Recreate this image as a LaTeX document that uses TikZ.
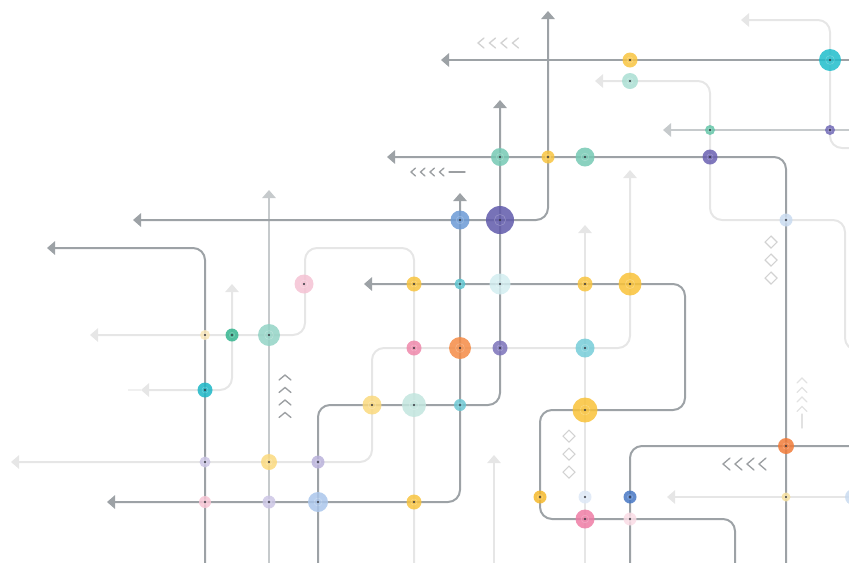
\documentclass[tikz,border=0pt]{standalone}
\usetikzlibrary{arrows.meta}
\definecolor{dk}{HTML}{9DA2A6}
\definecolor{md}{HTML}{C6CACC}
\definecolor{lt}{HTML}{E6E6E6}
\definecolor{chD}{HTML}{9C9FA2}
\definecolor{chL}{HTML}{D2D2D2}
\definecolor{chLL}{HTML}{E2E2E2}
% node colours
\definecolor{yel}{HTML}{F8C43F}
\definecolor{yelB}{HTML}{F9C238}
\definecolor{yelD}{HTML}{F5B82A}
\definecolor{yelL}{HTML}{FAD97E}
\definecolor{yelP}{HTML}{F9E6B8}
\definecolor{yelS}{HTML}{F7E1A0}
\definecolor{tealB}{HTML}{20BDCB}
\definecolor{tealL}{HTML}{A9DED2}
\definecolor{tealM}{HTML}{93D3C5}
\definecolor{tealLL}{HTML}{C2E5DE}
\definecolor{grnA}{HTML}{64C6A8}
\definecolor{grnB}{HTML}{76C9B4}
\definecolor{grnC}{HTML}{34B58F}
\definecolor{purA}{HTML}{7068B6}
\definecolor{purB}{HTML}{6A60B1}
\definecolor{purC}{HTML}{5F59AA}
\definecolor{purD}{HTML}{7B72BA}
\definecolor{purL}{HTML}{BAB2DB}
\definecolor{purLL}{HTML}{CCC6E5}
\definecolor{bluA}{HTML}{6B9AD6}
\definecolor{bluB}{HTML}{4677C4}
\definecolor{bluM}{HTML}{AAC6EB}
\definecolor{bluL}{HTML}{C9DBF0}
\definecolor{bluLL}{HTML}{DDE8F6}
\definecolor{cynA}{HTML}{5DC4CF}
\definecolor{cynB}{HTML}{76CDD8}
\definecolor{cynC}{HTML}{1BB6C6}
\definecolor{cynD}{HTML}{6CC7D2}
\definecolor{cynL}{HTML}{D2EDF0}
\definecolor{pnkA}{HTML}{EF87AA}
\definecolor{pnkB}{HTML}{EE7DA5}
\definecolor{pnkL}{HTML}{F5C2D3}
\definecolor{pnkLL}{HTML}{F7C4D3}
\definecolor{pnkP}{HTML}{FADCE5}
\definecolor{orgA}{HTML}{F48B45}
\definecolor{orgB}{HTML}{F17B38}
\definecolor{dotc}{HTML}{33333C}
\tikzset{
  tri/.tip={Triangle[length=6pt,width=10pt]},
  dkline/.style={draw=dk, line width=1.5pt, rounded corners=9pt},
  mdline/.style={draw=md, line width=1.5pt, rounded corners=9pt},
  ltline/.style={draw=lt, line width=1.5pt, rounded corners=9pt},
  hubnode/.style={circle, inner sep=0pt, draw=none, fill opacity=0.85},
  chev/.style={line width=1pt, line cap=round, line join=miter},
  diam/.style={draw=chL, line width=0.8pt},
}
\newcommand\hub[4]{%
  \node[hubnode, fill=#4, minimum size=#3*1.5pt] (#1) at (#2) {};
  \draw[white, opacity=0.25, line width=0.4pt] (#1.center) circle[radius=#3*0.3pt];
  \fill[dotc] (#1.center) circle[radius=0.8pt];
}
\newcommand\chevleft[5]{% x y width height colour
  \draw[chev, draw=#5] (#1,#2) ++(#3,-#4/2) -- ++(-#3,#4/2) -- ++(#3,#4/2);
}
\newcommand\chevup[5]{% x y halfwidth height colour
  \draw[chev, draw=#5] (#1,#2) ++(-#3,#4) -- ++(#3,-#4) -- ++(#3,#4);
}
\newcommand\diamondmark[2]{%
  \draw[diam] (#1,#2) ++(0,-6) -- ++(6,6) -- ++(-6,6) -- ++(-6,-6) -- cycle;
}
\begin{document}
\begin{tikzpicture}[x=0.75pt,y=-0.75pt]
\useasboundingbox (0,0) rectangle (849,562);
\clip (0,0) rectangle (849,562);

% ---------- light lines ----------
\draw[ltline, {tri}-] (741,20) -- (830,20) -- (830,148) -- (870,148);
\draw[ltline, {tri}-] (595,81) -- (710,81) -- (710,220) -- (845,220) -- (845,350) -- (880,350);
\draw[ltline, {tri}-{tri}] (630,170) -- (630,348) -- (372,348) -- (372,462) -- (11,462);
\draw[ltline, {tri}-] (585,225) -- (585,570);
\draw[ltline, {tri}-] (90,335) -- (305,335) -- (305,248) -- (414,248) -- (414,570);
\draw[ltline, {tri}-{tri}] (232,284) -- (232,390) -- (141,390);
\draw[draw=lt!60, line width=1.5pt] (128,390) -- (141,390);
\draw[ltline, {tri}-] (494,455) -- (494,570);
\draw[ltline, {tri}-] (667,497) -- (870,497);

% ---------- medium lines ----------
\draw[mdline, {tri}-] (269,190) -- (269,570);
\draw[mdline, {tri}-] (663,130) -- (870,130);

% ---------- dark lines ----------
\draw[dkline, {tri}-{tri}] (133,220) -- (548,220) -- (548,11);
\draw[dkline, {tri}-] (441,60) -- (870,60);
\draw[dkline, {tri}-] (500,100) -- (500,405) -- (318,405) -- (318,570);
\draw[dkline, {tri}-] (387,157) -- (786,157) -- (786,570);
\draw[dkline, {tri}-{tri}] (460,193) -- (460,502) -- (107,502);
\draw[dkline, {tri}-] (47,248) -- (205,248) -- (205,570);
\draw[dkline, {tri}-] (364,284) -- (685,284) -- (685,410) -- (540,410) -- (540,519) -- (735,519) -- (735,570);
\draw[dkline] (870,446) -- (630,446) -- (630,570);

% ---------- hubs ----------
\hub{h1}{630,60}{7.5}{yel}
\hub{h2}{830,60}{11}{tealB}
\hub{h3}{630,81}{8}{tealL}
\hub{h4}{710,130}{5}{grnA}
\hub{h5}{830,130}{5}{purA}
\hub{h6}{500,157}{9}{grnB}
\hub{h7}{548,157}{6.5}{yel}
\hub{h8}{585,157}{9.5}{grnB}
\hub{h9}{710,157}{7.5}{purB}
\hub{h10}{460,220}{9.5}{bluA}
\hub{h11}{500,220}{14}{purC}
\hub{h12}{786,220}{6.5}{bluL}
\hub{h13}{304,284}{9.5}{pnkL}
\hub{h14}{414,284}{7.5}{yel}
\hub{h15}{460,284}{5.5}{cynA}
\hub{h16}{500,284}{10.5}{cynL}
\hub{h17}{585,284}{7.5}{yel}
\hub{h18}{630,284}{11.5}{yelB}
\hub{h19}{205,335}{5}{yelP}
\hub{h20}{232,335}{6.5}{grnC}
\hub{h21}{269,335}{11}{tealM}
\hub{h22}{414,348}{7.5}{pnkA}
\hub{h23}{460,348}{11}{orgA}
\hub{h24}{500,348}{7.5}{purD}
\hub{h25}{585,348}{9.5}{cynB}
\hub{h26}{205,390}{7.5}{cynC}
\hub{h27}{372,405}{9.5}{yelL}
\hub{h28}{414,405}{12}{tealLL}
\hub{h29}{460,405}{6}{cynD}
\hub{h30}{585,410}{12.5}{yelB}
\hub{h31}{786,446}{8}{orgB}
\hub{h32}{205,462}{5.5}{purLL}
\hub{h33}{269,462}{8}{yelL}
\hub{h34}{318,462}{6.5}{purL}
\hub{h35}{205,502}{6}{pnkLL}
\hub{h36}{269,502}{6.5}{purLL}
\hub{h37}{318,502}{10}{bluM}
\hub{h38}{414,502}{7.5}{yel}
\hub{h39}{540,497}{6.5}{yelD}
\hub{h40}{585,497}{6.5}{bluLL}
\hub{h41}{630,497}{6.5}{bluB}
\hub{h42}{786,497}{4.5}{yelS}
\hub{h43}{853,497}{8}{bluL}
\hub{h44}{585,519}{9.5}{pnkB}
\hub{h45}{630,519}{6.5}{pnkP}

% ---------- chevrons and marks ----------
\foreach \i in {0,1,2,3} {\chevleft{478+11.5*\i}{43}{6}{10}{chL}}
\foreach \i in {0,1,2,3} {\chevleft{411+9.5*\i}{172}{4.5}{8}{chD}}
\draw[chev, draw=chD] (449,172) -- (465,172);
\foreach \i in {0,1,2,3} {\chevleft{723+12*\i}{464}{7}{12}{chD}}
\foreach \i in {0,1,2,3} {\chevup{285}{375+12.5*\i}{6}{5}{chD}}
\foreach \i in {0,1,2,3} {\chevup{802}{378+9.5*\i}{5}{5}{chLL}}
\draw[chev, draw=chLL] (802,414) -- (802,428);
\diamondmark{771}{242}
\diamondmark{771}{260}
\diamondmark{771}{278}
\diamondmark{569}{436}
\diamondmark{569}{454}
\diamondmark{569}{472}
\end{tikzpicture}
\end{document}
